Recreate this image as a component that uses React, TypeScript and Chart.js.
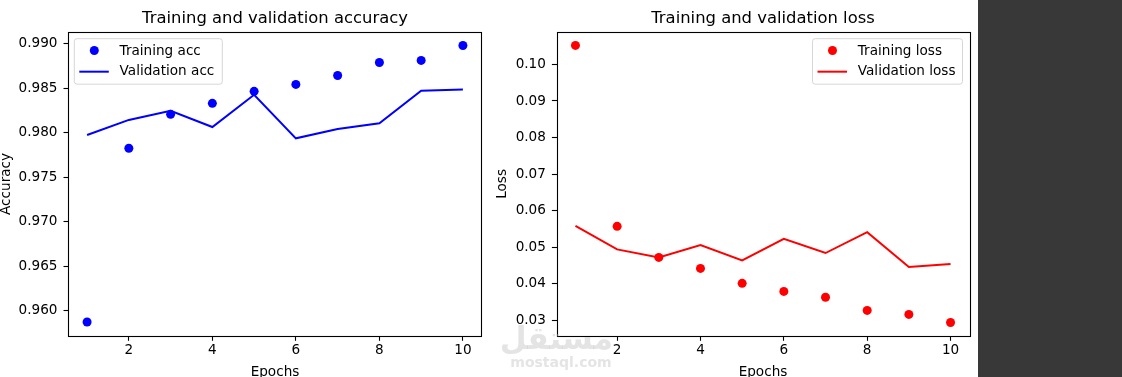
import React, { useEffect, useRef } from 'react';
import { Chart, registerables } from 'chart.js';

Chart.register(...registerables);

const epochs = [1, 2, 3, 4, 5, 6, 7, 8, 9, 10];
const trainingAcc = [0.95873, 0.97826, 0.98208, 0.98331, 0.98466, 0.98544, 0.98645, 0.98791, 0.98814, 0.98982];
const validationAcc = [0.97975, 0.98145, 0.98248, 0.98065, 0.98428, 0.97938, 0.98043, 0.98107, 0.98473, 0.98488];
const trainingLoss = [0.1052, 0.0557, 0.0472, 0.0442, 0.0401, 0.0379, 0.0363, 0.0327, 0.0316, 0.0294];
const validationLoss = [0.0558, 0.0494, 0.0472, 0.0506, 0.0464, 0.0523, 0.0484, 0.0541, 0.0446, 0.0454];
const epochTicks = [2, 4, 6, 8, 10];
const accTicks = [0.96, 0.965, 0.97, 0.975, 0.98, 0.985, 0.99];
const lossTicks = [0.03, 0.04, 0.05, 0.06, 0.07, 0.08, 0.09, 0.1];

const FONT = "'DejaVu Sans', sans-serif";
const TICK_SIZE = 13.6;

const mplPlugin = {
  id: 'mplFrame',
  afterDraw(chart: any, _args: any, opts: any) {
    const { ctx, chartArea: a } = chart;
    ctx.save();
    // frame
    ctx.strokeStyle = '#000';
    ctx.lineWidth = 1.1;
    ctx.strokeRect(Math.round(a.left) + 0.5, Math.round(a.top) + 0.5, Math.round(a.right - a.left), Math.round(a.bottom - a.top));
    // legend
    const w = opts.width, h = 45.5;
    const left = opts.side === 'left' ? a.left + 6 : a.right - 6.8 - w;
    const top = a.top + 6.8;
    const r = 2.7;
    ctx.beginPath();
    ctx.moveTo(left + r, top);
    ctx.lineTo(left + w - r, top);
    ctx.arcTo(left + w, top, left + w, top + r, r);
    ctx.lineTo(left + w, top + h - r);
    ctx.arcTo(left + w, top + h, left + w - r, top + h, r);
    ctx.lineTo(left + r, top + h);
    ctx.arcTo(left, top + h, left, top + h - r, r);
    ctx.lineTo(left, top + r);
    ctx.arcTo(left, top, left + r, top, r);
    ctx.closePath();
    ctx.fillStyle = 'rgba(255,255,255,0.8)';
    ctx.fill();
    ctx.strokeStyle = 'rgba(204,204,204,0.8)';
    ctx.lineWidth = 1;
    ctx.stroke();
    const ds = chart.data.datasets;
    const rows = [top + 12.3, top + 33];
    ds.forEach((d: any, i: number) => {
      const y = rows[i];
      if (d.showLine) {
        ctx.strokeStyle = d.borderColor;
        ctx.lineWidth = 2;
        ctx.beginPath();
        ctx.moveTo(left + 5, y);
        ctx.lineTo(left + 34.5, y);
        ctx.stroke();
      } else {
        ctx.fillStyle = d.pointBackgroundColor;
        ctx.beginPath();
        ctx.arc(left + 20, y - 0.5, 4.5, 0, Math.PI * 2);
        ctx.fill();
      }
      ctx.fillStyle = '#000';
      ctx.font = `${TICK_SIZE}px ${FONT}`;
      ctx.textBaseline = 'middle';
      ctx.textAlign = 'left';
      ctx.fillText(d.label, left + 45.3, y);
    });
    ctx.restore();
  },
};

function makeConfig(opts: {
  color: string;
  title: string;
  yTitle: string;
  labels: [string, string];
  train: number[];
  val: number[];
  yMin: number;
  yMax: number;
  yTicks: number[];
  decimals: number;
  yWidth: number;
  yTitlePad: number;
  padRight: number;
  legendSide: string;
  legendWidth: number;
}) {
  const tickFont = { family: FONT, size: TICK_SIZE };
  const grid = { drawOnChartArea: false, drawTicks: true, tickLength: 4.8, tickColor: '#000', tickWidth: 1.1 };
  return {
    type: 'scatter',
    data: {
      datasets: [
        {
          label: opts.labels[0],
          data: epochs.map((x, i) => ({ x, y: opts.train[i] })),
          showLine: false,
          pointRadius: 4.5,
          pointBorderWidth: 0,
          pointBackgroundColor: opts.color,
          backgroundColor: opts.color,
          borderColor: opts.color,
        },
        {
          label: opts.labels[1],
          data: epochs.map((x, i) => ({ x, y: opts.val[i] })),
          showLine: true,
          pointRadius: 0,
          borderWidth: 2,
          borderColor: opts.color,
          backgroundColor: opts.color,
          tension: 0,
        },
      ],
    },
    options: {
      animation: false,
      responsive: false,
      maintainAspectRatio: false,
      layout: { padding: { left: 0, right: opts.padRight, top: 0.2, bottom: 0 } },
      plugins: {
        legend: { display: false },
        tooltip: { enabled: false },
        title: {
          display: true,
          text: opts.title,
          color: '#000',
          fullSize: false,
          font: { family: FONT, size: 16.4, weight: 'normal', lineHeight: 1.2 },
          padding: { top: 8.6, bottom: 3.4 },
        },
        mplFrame: { side: opts.legendSide, width: opts.legendWidth },
      },
      scales: {
        x: {
          type: 'linear',
          min: 0.55,
          max: 10.45,
          afterBuildTicks: (s: any) => {
            s.ticks = epochTicks.map((v) => ({ value: v }));
          },
          afterFit: (s: any) => {
            s.height = 41;
          },
          grid,
          border: { display: false },
          ticks: { color: '#000', font: tickFont, padding: 2, maxRotation: 0, autoSkip: false, callback: (v: number) => String(v) },
          title: { display: true, text: 'Epochs', color: '#000', font: { family: FONT, size: TICK_SIZE, lineHeight: 1 }, padding: { top: 0, bottom: -2 } },
        },
        y: {
          type: 'linear',
          min: opts.yMin,
          max: opts.yMax,
          afterBuildTicks: (s: any) => {
            s.ticks = opts.yTicks.map((v) => ({ value: v }));
          },
          afterFit: (s: any) => {
            s.width = opts.yWidth;
          },
          grid,
          border: { display: false },
          ticks: { color: '#000', font: tickFont, padding: 6, autoSkip: false, callback: (v: number) => Number(v).toFixed(opts.decimals) },
          title: { display: true, text: opts.yTitle, color: '#000', font: { family: FONT, size: TICK_SIZE, lineHeight: 1 }, padding: { top: opts.yTitlePad, bottom: 0 } },
        },
      },
    },
    plugins: [mplPlugin],
  } as any;
}

function ChartCanvas({ config, width, height }: { config: any; width: number; height: number }) {
  const ref = useRef<HTMLCanvasElement | null>(null);
  useEffect(() => {
    if (!ref.current) return;
    const chart = new Chart(ref.current, config);
    return () => chart.destroy();
  }, [config]);
  return <canvas ref={ref} width={width} height={height} style={{ width, height, display: 'block' }} />;
}

const accConfig = makeConfig({
  color: '#0000ff',
  title: 'Training and validation accuracy',
  yTitle: 'Accuracy',
  labels: ['Training acc', 'Validation acc'],
  train: trainingAcc,
  val: validationAcc,
  yMin: 0.95715,
  yMax: 0.99135,
  yTicks: accTicks,
  decimals: 3,
  yWidth: 68.3,
  yTitlePad: 0,
  padRight: 8.3,
  legendSide: 'left',
  legendWidth: 148,
});

const lossConfig = makeConfig({
  color: '#ff0000',
  title: 'Training and validation loss',
  yTitle: 'Loss',
  labels: ['Training loss', 'Validation loss'],
  train: trainingLoss,
  val: validationLoss,
  yMin: 0.0257,
  yMax: 0.10891,
  yTicks: lossTicks,
  decimals: 2,
  yWidth: 66.7,
  yTitlePad: 5.2,
  padRight: 8.7,
  legendSide: 'right',
  legendWidth: 150,
});

export default function App() {
  return (
    <div style={{ position: 'fixed', left: 0, top: 0, width: 1122, height: 377, background: '#fff', overflow: 'hidden' }}>
      <div style={{ position: 'absolute', left: 0, top: 0 }}>
        <ChartCanvas config={accConfig} width={490} height={377} />
      </div>
      <div style={{ position: 'absolute', left: 490, top: 0 }}>
        <ChartCanvas config={lossConfig} width={488} height={377} />
      </div>
      <div style={{ position: 'absolute', left: 978, top: 0, width: 144, height: 377, background: '#383838' }} />
      <div
        style={{
          position: 'absolute',
          left: 509,
          top: 323,
          width: 104,
          textAlign: 'center',
          fontFamily: FONT,
          fontWeight: 'bold',
          color: 'rgba(190,190,190,0.42)',
          pointerEvents: 'none',
          lineHeight: 1,
        }}
      >
        <div style={{ fontSize: 31 }} dir="rtl">مستقل</div>
        <div style={{ fontSize: 14, marginTop: 1 }}>mostaql.com</div>
      </div>
    </div>
  );
}
